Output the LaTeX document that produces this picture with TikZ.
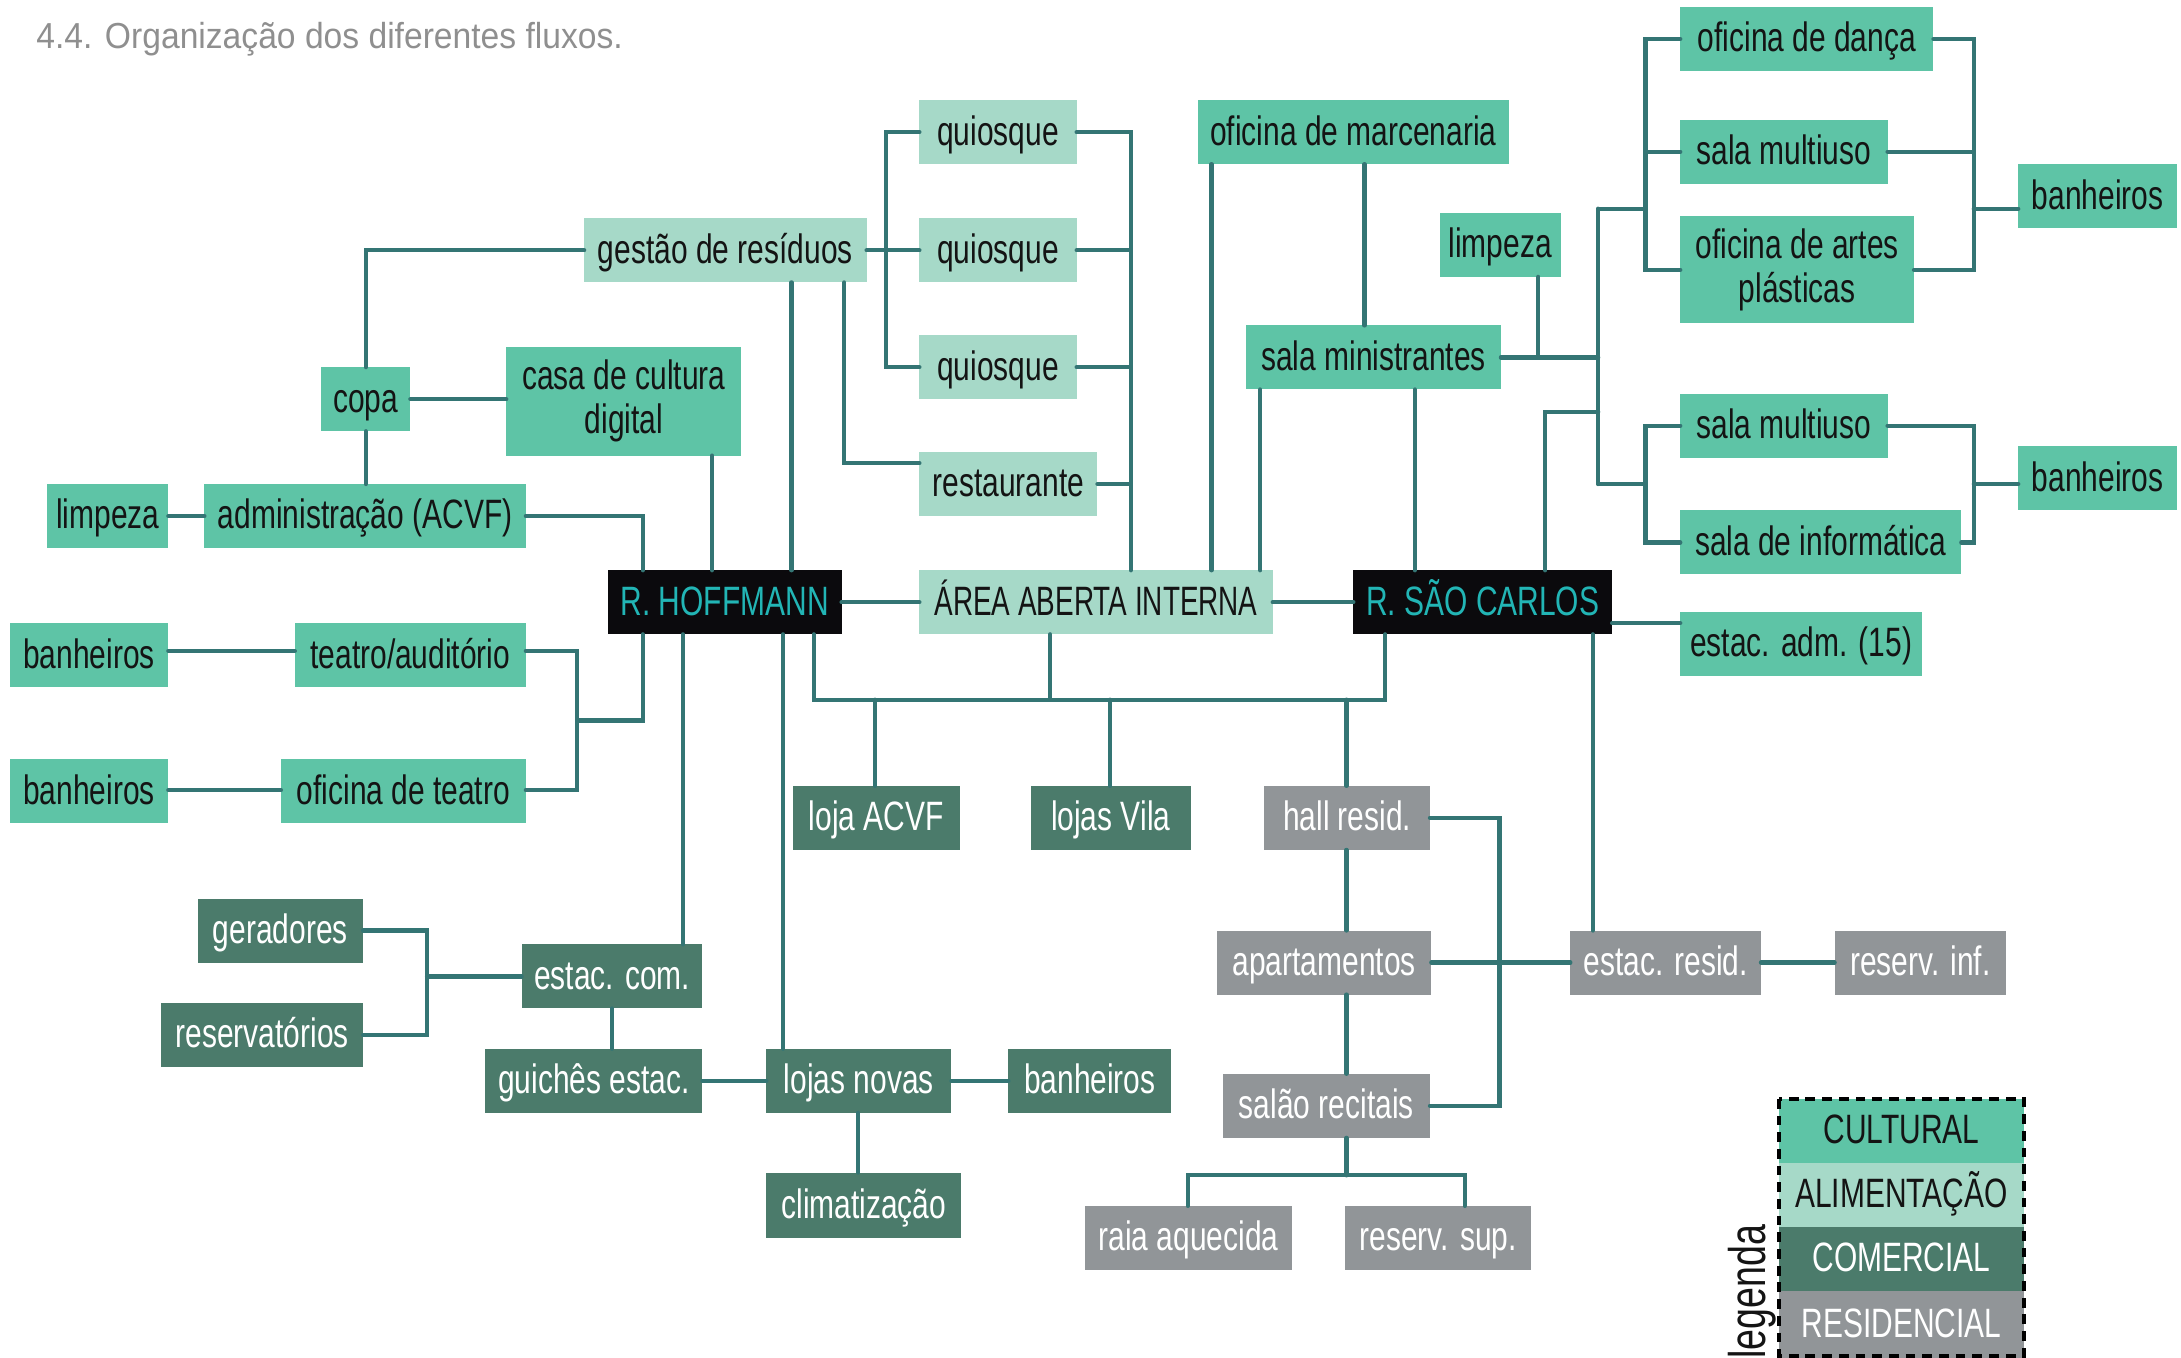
\documentclass[tikz,border=0pt]{standalone}
\usepackage{fontspec}
\setmainfont{Liberation Sans}[FakeStretch=0.73]
\newfontfamily\titlefont{Liberation Sans}[FakeStretch=0.93]
\newfontfamily\areafont{Liberation Sans}[FakeStretch=0.68]
\definecolor{cultc}{HTML}{5EC4A6}
\definecolor{alimc}{HTML}{A6D9C8}
\definecolor{comrc}{HTML}{4B7B6B}
\definecolor{resdc}{HTML}{919598}
\definecolor{roadc}{HTML}{0B0A0D}
\definecolor{roadtxt}{HTML}{22B5B5}
\definecolor{lnc}{HTML}{347574}
\definecolor{txtc}{HTML}{141414}
\definecolor{ttlc}{HTML}{8F8F8F}
\tikzset{
  boxbase/.style={inner sep=0pt, outer sep=0pt, align=center, font=\fontsize{29.5}{31.5}\selectfont},
  cult/.style={boxbase, fill=cultc, text=txtc},
  alim/.style={boxbase, fill=alimc, text=txtc},
  comr/.style={boxbase, fill=comrc, text=white},
  resd/.style={boxbase, fill=resdc, text=white},
  road/.style={boxbase, fill=roadc, text=roadtxt},
  ln/.style={draw=lnc, line width=3pt, line cap=round, line join=miter},
  legborder/.style={draw=black, line width=3.2pt, dash pattern=on 7pt off 5pt}
}
% single-line box: name, style, x1, y1, x2, y2, text
\newcommand\bx[7]{\node[#2, text height=19.1pt, text depth=0.5pt, minimum width={(#5-#3)*1pt}, minimum height={(#6-#4)*1pt}] (#1) at ({(#3+#5)/2},{(#4+#6)/2}) {#7};}
% two-line box
\newcommand\bxx[7]{\node[#2, yshift=-1.5pt, minimum width={(#5-#3)*1pt}, minimum height={(#6-#4)*1pt}] (#1) at ({(#3+#5)/2},{(#4+#6)/2}) {#7};}
\begin{document}
\begin{tikzpicture}[x=1pt,y=-1pt]
\useasboundingbox (0,0) rectangle (1568,976);
\node[anchor=base west, text=ttlc, font=\titlefont\fontsize{26}{28}\selectfont, inner sep=0pt] (title) at (26,35) {4.4. Organização dos diferentes fluxos.};
% cultural
\bx{danca}{cult}{1208}{5}{1390}{51}{oficina de dança}
\bx{mult1}{cult}{1208}{86}{1357}{132}{sala multiuso}
\bxx{artes}{cult}{1208}{154}{1376}{231}{oficina de artes\\plásticas}
\bx{banR1}{cult}{1451}{118}{1565}{164}{banheiros}
\bx{mult2}{cult}{1208}{283}{1357}{329}{sala multiuso}
\bx{info}{cult}{1208}{367}{1410}{413}{sala de informática}
\bx{banR2}{cult}{1451}{321}{1565}{367}{banheiros}
\bx{marc}{cult}{861}{72}{1085}{118}{oficina de marcenaria}
\bx{limpR}{cult}{1035}{153}{1122}{199}{limpeza}
\bx{mini}{cult}{896}{234}{1079}{280}{sala ministrantes}
\bx{estadm}{cult}{1208}{440}{1382}{486}{estac. adm. (15)}
\bxx{casa}{cult}{364}{248}{533}{326}{casa de cultura\\digital}
\bx{copa}{cult}{231}{264}{295}{310}{copa}
\bx{limpL}{cult}{34}{348}{121}{394}{limpeza}
\bx{adm}{cult}{147}{348}{378}{394}{administração (ACVF)}
\bx{banL1}{cult}{7}{448}{121}{494}{banheiros}
\bx{teatro}{cult}{212}{448}{378}{494}{teatro/auditório}
\bx{banL2}{cult}{7}{546}{121}{592}{banheiros}
\bx{oftea}{cult}{202}{546}{378}{592}{oficina de teatro}
% alimentacao
\bx{q1}{alim}{661}{72}{774}{118}{quiosque}
\bx{q2}{alim}{661}{157}{774}{203}{quiosque}
\bx{q3}{alim}{661}{241}{774}{287}{quiosque}
\bx{rest}{alim}{661}{325}{789}{371}{restaurante}
\bx{ges}{alim}{420}{157}{623}{203}{gestão de resíduos}
\bx{area}{alim}{661}{410}{915}{456}{\areafont ÁREA ABERTA INTERNA}
% roads
\bx{hoff}{road}{437}{410}{605}{456}{R. HOFFMANN}
\bx{sc}{road}{973}{410}{1159}{456}{R. SÃO CARLOS}
% comercial
\bx{ljacvf}{comr}{570}{565}{690}{611}{loja ACVF}
\bx{ljvila}{comr}{741}{565}{856}{611}{lojas Vila}
\bx{ger}{comr}{142}{646}{261}{692}{geradores}
\bx{resv}{comr}{116}{721}{261}{767}{reservatórios}
\bx{estcom}{comr}{375}{679}{505}{725}{estac. com.}
\bx{guich}{comr}{349}{754}{505}{800}{guichês estac.}
\bx{ljnov}{comr}{551}{754}{684}{800}{lojas novas}
\bx{banC}{comr}{725}{754}{842}{800}{banheiros}
\bx{clim}{comr}{551}{843}{691}{890}{climatização}
% residencial
\bx{hall}{resd}{909}{565}{1028}{611}{hall resid.}
\bx{apt}{resd}{875}{669}{1029}{715}{apartamentos}
\bx{estres}{resd}{1129}{669}{1266}{715}{estac. resid.}
\bx{rinf}{resd}{1319}{669}{1442}{715}{reserv. inf.}
\bx{salao}{resd}{879}{772}{1028}{818}{salão recitais}
\bx{raia}{resd}{780}{867}{929}{913}{raia aquecida}
\bx{rsup}{resd}{967}{867}{1101}{913}{reserv. sup.}
% legend
\bx{legc}{cult}{1279}{790}{1455}{836}{CULTURAL}
\bx{lega}{alim}{1279}{836}{1455}{882}{ALIMENTAÇÃO}
\bx{legm}{comr}{1279}{882}{1455}{928}{COMERCIAL}
\bx{legr}{resd}{1279}{928}{1455}{976}{RESIDENCIAL}
\draw[legborder] (legc.north west) rectangle ([yshift=1pt]legr.south east);
\node[rotate=90, anchor=base west, inner sep=0pt, text=txtc, font=\fontsize{37}{39}\selectfont] (legtxt) at (1269,977) {legenda};
% junction coordinates
\coordinate (qv) at (813,0);
\coordinate (qb) at (637,0);
\coordinate (tk) at (1149,0);
\coordinate (bl) at (1183,0);
\coordinate (br) at (1419,0);
\coordinate (tb) at (415,0);
\coordinate (gb) at (307,0);
\coordinate (hr) at (1078,0);
\coordinate (bus) at (0,503);
\coordinate (sj) at (0,845);
% connectors left/top
\draw[ln] (ges.west) -| (copa.north);
\draw[ln] (copa.east) -- (casa.west |- copa.east);
\draw[ln] (copa.south) -- (copa.south |- adm.north);
\draw[ln] (limpL.east) -- (adm.west);
\draw[ln] (adm.east) -| (hoff.north -| 462,0);
\draw[ln] (casa.south -| 512,0) -- (hoff.north -| 512,0);
\draw[ln] (ges.south -| 569,0) -- (hoff.north -| 569,0);
\draw[ln] (ges.south -| 607,0) |- (rest.west |- 0,333);
\draw[ln] (ges.east) -- (q2.west);
\draw[ln] (q1.west) -- (qb |- q1.west) -- (qb |- q3.west) -- (q3.west);
\draw[ln] (q1.east) -- (qv |- q1.east) -- (qv |- area.north);
\draw[ln] (q2.east) -- (qv |- q2.east);
\draw[ln] (q3.east) -- (qv |- q3.east);
\draw[ln] (rest.east) -- (qv |- rest.east);
\draw[ln] (marc.south -| 871,0) -- (area.north -| 871,0);
\draw[ln] (marc.south -| 981,0) -- (mini.north -| 981,0);
\draw[ln] (mini.south -| 906,0) -- (area.north -| 906,0);
\draw[ln] (mini.south -| 1017,0) -- (sc.north -| 1017,0);
\draw[ln] (limpR.south -| 1106,0) -- (1106,0 |- mini.east);
\draw[ln] (mini.east) -- (tk |- mini.east);
\draw[ln] (tk |- 0,150) -- (tk |- 0,348);
\draw[ln] (tk |- 0,150) -- (bl |- 0,150);
\draw[ln] (tk |- 0,348) -- (bl |- 0,348);
\draw[ln] (sc.north -| 1111,0) |- (tk |- 0,296);
% right brackets
\draw[ln] (danca.west) -- (bl |- danca.west) -- (bl |- artes.west) -- (artes.west);
\draw[ln] (mult1.west) -- (bl |- mult1.west);
\draw[ln] (danca.east) -- (br |- danca.east) -- (br |- artes.east) -- (artes.east);
\draw[ln] (mult1.east) -- (br |- mult1.east);
\draw[ln] (br |- 0,150) -- (banR1.west |- 0,150);
\draw[ln] (mult2.west) -- (bl |- mult2.west) -- (bl |- info.west) -- (info.west);
\draw[ln] (mult2.east) -- (br |- mult2.east) -- (br |- info.east) -- (info.east);
\draw[ln] (br |- 0,348) -- (banR2.west |- 0,348);
\draw[ln] (sc.east |- 0,448) -- (estadm.west |- 0,448);
% roads
\draw[ln] (hoff.east) -- (area.west);
\draw[ln] (area.east) -- (sc.west);
% below Hoffmann
\draw[ln] (hoff.south -| 462,0) |- (tb |- 0,518);
\draw[ln] (teatro.east |- 0,468) -- (tb |- 0,468) -- (tb |- 0,568) -- (oftea.east |- 0,568);
\draw[ln] (banL1.east |- 0,468) -- (teatro.west |- 0,468);
\draw[ln] (banL2.east |- 0,568) -- (oftea.west |- 0,568);
\draw[ln] (hoff.south -| 491,0) -- (estcom.north -| 491,0);
\draw[ln] (hoff.south -| 563,0) -- (ljnov.north -| 563,0);
\draw[ln] (hoff.south -| 585,0) |- (bus -| 996,0) -- (sc.south -| 996,0);
\draw[ln] (ljacvf.north -| 629,0) -- (bus -| 629,0);
\draw[ln] (area.south -| 755,0) -- (bus -| 755,0);
\draw[ln] (ljvila.north -| 798,0) -- (bus -| 798,0);
\draw[ln] (hall.north -| 968,0) -- (bus -| 968,0);
\draw[ln] (sc.south -| 1145,0) -- (estres.north -| 1145,0);
% residencial
\draw[ln] (hall.south -| 968,0) -- (apt.north -| 968,0);
\draw[ln] (apt.south -| 968,0) -- (salao.north -| 968,0);
\draw[ln] (hall.east) -- (hr |- hall.east) -- (hr |- salao.east) -- (salao.east);
\draw[ln] (apt.east) -- (estres.west);
\draw[ln] (estres.east) -- (rinf.west);
\draw[ln] (salao.south -| 968,0) -- (sj -| 968,0);
\draw[ln] (raia.north -| 854,0) -- (sj -| 854,0) -- (sj -| 1053,0) -- (rsup.north -| 1053,0);
% comercial
\draw[ln] (ger.east) -- (gb |- ger.east) -- (gb |- resv.east) -- (resv.east);
\draw[ln] (gb |- estcom.west) -- (estcom.west);
\draw[ln] (estcom.south -| 440,0) -- (guich.north -| 440,0);
\draw[ln] (guich.east) -- (ljnov.west);
\draw[ln] (ljnov.east) -- (banC.west);
\draw[ln] (ljnov.south -| 617,0) -- (clim.north -| 617,0);
\end{tikzpicture}
\end{document}
